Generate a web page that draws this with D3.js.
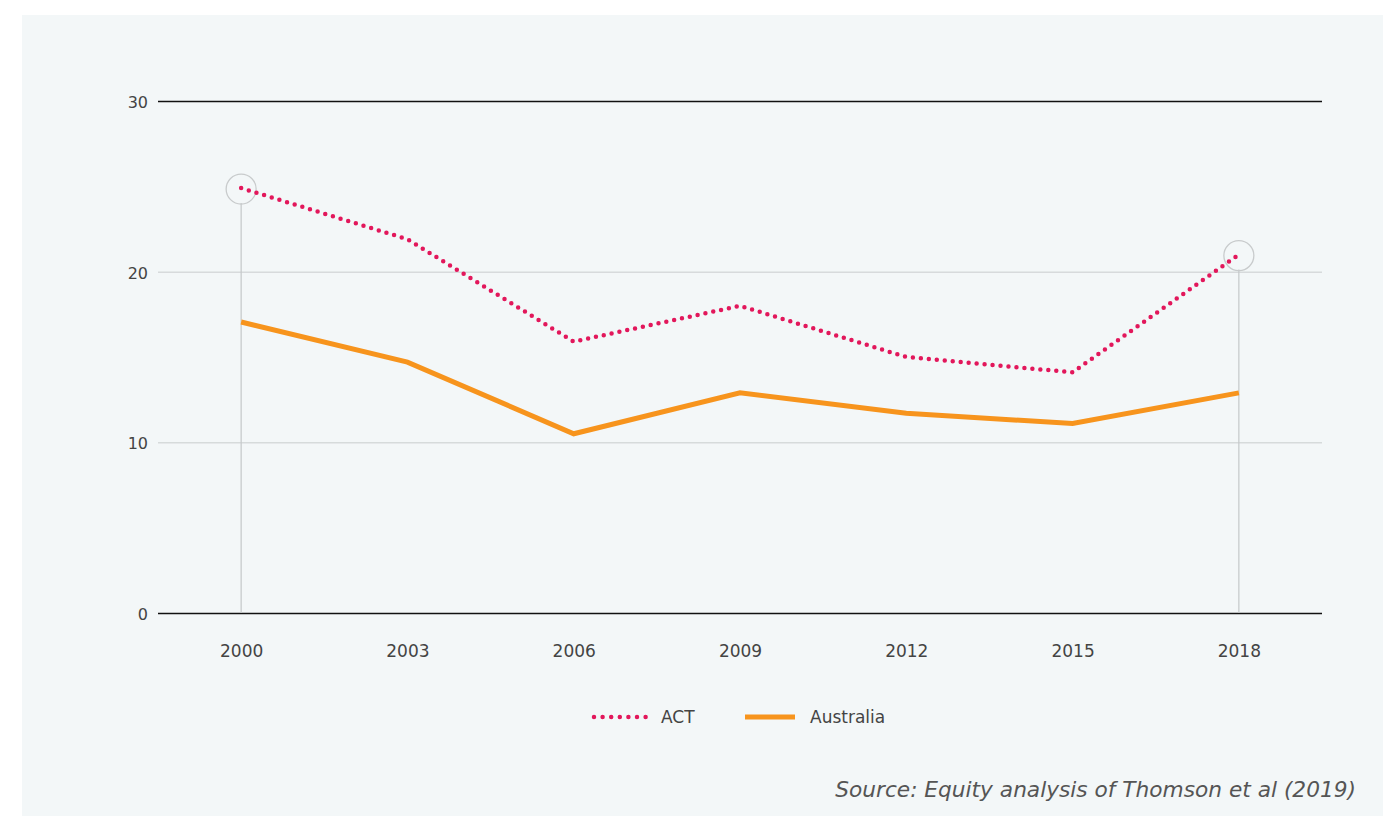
<!DOCTYPE html>
<html>
<head>
<meta charset="utf-8">
<script src="https://cdn.jsdelivr.net/npm/d3@7"></script>
<style>
  body { margin: 0; background: #fff; }
  text { font-family: "DejaVu Sans", "Open Sans", sans-serif; }
</style>
</head>
<body>
<script>
// chart values
var years = ["2000", "2003", "2006", "2009", "2012", "2015", "2018"];
var act_values = [24.9, 21.9, 15.9, 18.0, 15.0, 14.1, 21.0];
var aus_values = [17.05, 14.7, 10.5, 12.9, 11.7, 11.1, 12.9];
var y_ticks = [0, 10, 20, 30];
var series_names = ["ACT", "Australia"];

var width = 1397, height = 816;
var act_color = "#e2175b";
var aus_color = "#f7941d";

var svg = d3.select("body").append("svg")
  .attr("width", width)
  .attr("height", height);

// light panel behind the chart
svg.append("rect")
  .attr("x", 22).attr("y", 15)
  .attr("width", 1361).attr("height", 801)
  .attr("fill", "#f3f7f8");

var x = d3.scalePoint().domain(years).range([158, 1322]).padding(0.5);
var y = d3.scaleLinear().domain([0, 30]).range([613, 101]);

// horizontal grid lines, 0 and 30 are black, others grey
var y_axis = d3.axisLeft(y).tickValues(y_ticks).tickSize(-(1322 - 158)).tickPadding(10);
var gy = svg.append("g").attr("transform", "translate(158,0)").call(y_axis);
gy.select(".domain").remove();
gy.selectAll(".tick line")
  .attr("stroke", function(d) { return (d == 0 || d == 30) ? "#111" : "#c8cccd"; })
  .attr("stroke-width", function(d) { return (d == 0 || d == 30) ? 1.3 : 1; });
gy.selectAll(".tick text")
  .attr("fill", "#444")
  .style("font-size", "16px")
  .attr("x", -10)
  .attr("dy", "0.4em");

// x axis labels only
var x_axis = d3.axisBottom(x).tickSize(0).tickPadding(32);
var gx = svg.append("g").attr("transform", "translate(0,613)").call(x_axis);
gx.select(".domain").remove();
gx.selectAll(".tick text")
  .attr("fill", "#444")
  .style("font-size", "17px");

// highlight markers for first and last ACT value
var ends = [0, years.length - 1];
ends.forEach(function(i) {
  var cx = x(years[i]), cy = y(act_values[i]);
  svg.append("line")
    .attr("x1", cx).attr("x2", cx)
    .attr("y1", cy + 15).attr("y2", y(0))
    .attr("stroke", "#c4c8ca").attr("stroke-width", 1.2);
  svg.append("circle")
    .attr("cx", cx).attr("cy", cy + 1).attr("r", 15)
    .attr("fill", "none")
    .attr("stroke", "#c8cbcc").attr("stroke-width", 1.3);
});

var line = d3.line()
  .x(function(d, i) { return x(years[i]); })
  .y(function(d) { return y(d); });

svg.append("path")
  .datum(aus_values)
  .attr("d", line)
  .attr("fill", "none")
  .attr("stroke", aus_color)
  .attr("stroke-width", 5);

svg.append("path")
  .datum(act_values)
  .attr("d", line)
  .attr("fill", "none")
  .attr("stroke", act_color)
  .attr("stroke-width", 4.5)
  .attr("stroke-linecap", "round")
  .attr("stroke-dasharray", "0 8");

// legend
var legend_y = 717;
svg.append("line")
  .attr("x1", 594).attr("x2", 646)
  .attr("y1", legend_y).attr("y2", legend_y)
  .attr("stroke", act_color).attr("stroke-width", 4.5)
  .attr("stroke-linecap", "round")
  .attr("stroke-dasharray", "0 8.6");
svg.append("text")
  .text(series_names[0])
  .attr("x", 661).attr("y", legend_y + 6)
  .attr("fill", "#444").style("font-size", "17px");

svg.append("line")
  .attr("x1", 745).attr("x2", 795)
  .attr("y1", legend_y).attr("y2", legend_y)
  .attr("stroke", aus_color).attr("stroke-width", 5);
svg.append("text")
  .text(series_names[1])
  .attr("x", 810).attr("y", legend_y + 6)
  .attr("fill", "#444").style("font-size", "17px");

// source note
svg.append("text")
  .text("Source: Equity analysis of Thomson et al (2019)")
  .attr("x", 1356).attr("y", 797)
  .attr("text-anchor", "end")
  .attr("fill", "#555")
  .style("font-size", "21.7px")
  .style("font-style", "italic");
</script>
</body>
</html>
